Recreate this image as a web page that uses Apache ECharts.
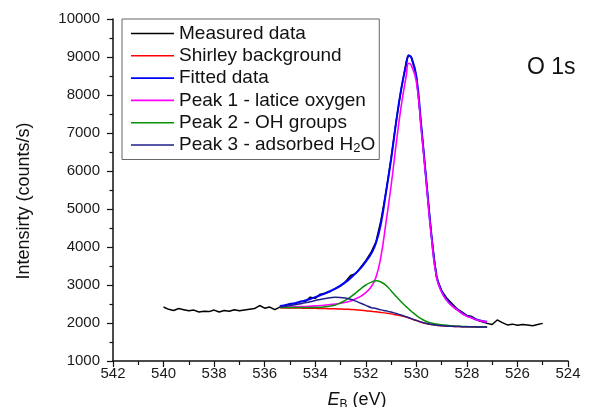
<!DOCTYPE html>
<html>
<head>
<meta charset="utf-8">
<script src="https://cdn.jsdelivr.net/npm/echarts@6/dist/echarts.min.js"></script>
<style>
  html, body { margin: 0; padding: 0; background: #fff; }
  #chart { width: 590px; height: 407px; }
</style>
</head>
<body>
<div id="chart"></div>
<script>
// binding energy grid of the measured spectrum (eV)
var measuredE = [540.0, 539.8, 539.6, 539.4, 539.2, 539.0, 538.8, 538.6, 538.4, 538.2,
  538.0, 537.8, 537.6, 537.4, 537.2, 537.0, 536.8, 536.6, 536.4, 536.2,
  536.0, 535.8, 535.6, 535.4, 535.2, 535.0, 534.8, 534.6, 534.4, 534.2,
  534.0, 533.8, 533.6, 533.4, 533.2, 533.0, 532.8, 532.6, 532.4, 532.2,
  532.0, 531.8, 531.6, 531.4, 531.2, 531.0, 530.8, 530.6, 530.4, 530.3,
  530.2, 530.0, 529.8, 529.6, 529.4, 529.2, 529.0, 528.8, 528.6, 528.4,
  528.2, 528.0, 527.8, 527.6, 527.4, 527.2, 527.0, 526.8, 526.6, 526.4,
  526.2, 526.0, 525.8, 525.6, 525.4, 525.2, 525.0];
var measuredCounts = [2420, 2360, 2330, 2380, 2350, 2320, 2340, 2290, 2310, 2300,
  2340, 2290, 2330, 2310, 2350, 2320, 2340, 2360, 2380, 2460,
  2390, 2420, 2350, 2420, 2450, 2510, 2500, 2570, 2560, 2680,
  2650, 2760, 2780, 2830, 2910, 2970, 3090, 3250, 3300, 3470,
  3640, 3850, 4130, 4700, 5450, 6330, 7300, 8150, 8880, 9050,
  9000, 8500, 7150, 5700, 4300, 3200, 2850, 2660, 2520, 2380,
  2290, 2200, 2170, 2080, 2030, 1990, 1960, 2080, 2010, 1950,
  1970, 1940, 1960, 1950, 1930, 1960, 1990];

// energy grid of the fit curves (eV)
var fitE = [535.4, 535.2, 535.0, 534.8, 534.6, 534.4, 534.2, 534.0, 533.8, 533.6,
  533.4, 533.2, 533.0, 532.8, 532.6, 532.4, 532.2, 532.0, 531.8, 531.6,
  531.4, 531.2, 531.0, 530.8, 530.6, 530.4, 530.3, 530.2, 530.0, 529.8,
  529.6, 529.4, 529.2, 529.0, 528.8, 528.6, 528.4, 528.2, 528.0, 527.8,
  527.6, 527.4, 527.2];
var shirley = [2400, 2398, 2396, 2394, 2392, 2390, 2388, 2385, 2382, 2379,
  2376, 2372, 2368, 2362, 2355, 2347, 2337, 2325, 2310, 2295,
  2278, 2260, 2240, 2215, 2190, 2155, 2133, 2110, 2065, 2020,
  1985, 1958, 1940, 1928, 1918, 1912, 1907, 1903, 1900, 1898,
  1897, 1896, 1895];
var fitted = [2445, 2469, 2495, 2522, 2556, 2590, 2631, 2680, 2731, 2784,
  2843, 2906, 2986, 3076, 3185, 3311, 3446, 3615, 3810, 4100,
  4620, 5440, 6300, 7280, 8150, 8800, 9040, 8990, 8490, 7140,
  5705, 4292, 3240, 2840, 2620, 2470, 2360, 2265, 2190, 2135,
  2085, 2055, 2030];
var peak1 = [2420, 2420, 2422, 2425, 2430, 2435, 2442, 2450, 2460, 2472,
  2485, 2500, 2520, 2545, 2580, 2640, 2700, 2800, 2940, 3200,
  3750, 4650, 5600, 6700, 7700, 8500, 8835, 8780, 8350, 7050,
  5650, 4250, 3200, 2810, 2595, 2455, 2355, 2255, 2180, 2130,
  2080, 2050, 2025];
var peak2 = [2405, 2405, 2405, 2405, 2405, 2405, 2405, 2410, 2415, 2425,
  2445, 2475, 2530, 2600, 2690, 2790, 2900, 3000, 3070, 3110,
  3080, 2990, 2850, 2700, 2560, 2430, 2370, 2310, 2200, 2110,
  2040, 2000, 1975, 1955, 1940, 1925, 1915, 1910, 1905, 1900,
  1900, 1900, 1900];
var peak3 = [2420, 2440, 2460, 2480, 2505, 2530, 2560, 2590, 2620, 2645,
  2665, 2675, 2672, 2655, 2625, 2575, 2520, 2465, 2410, 2380,
  2345, 2320, 2290, 2250, 2210, 2165, 2140, 2115, 2068, 2022,
  1987, 1960, 1942, 1930, 1920, 1913, 1908, 1904, 1901, 1899,
  1898, 1897, 1896];

var seriesNames = ['Measured data', 'Shirley background', 'Fitted data',
  'Peak 1 - latice oxygen', 'Peak 2 - OH groups', 'Peak 3 - adsorbed H2O'];
var xTicks = [542, 524, 2];     // max, min, step
var yTicks = [1000, 10000, 1000];

function pairs(xs, ys) {
  return xs.map(function (x, i) { return [x, ys[i]]; });
}

var font = "'Liberation Sans', Arial, sans-serif";
var myChart = echarts.init(document.getElementById('chart'), null, {renderer: 'canvas'});

function line(name, xs, ys, color, width, smooth) {
  return {
    name: name,
    type: 'line',
    data: pairs(xs, ys),
    symbol: 'none',
    smooth: smooth,
    lineStyle: {color: color, width: width},
    itemStyle: {color: color}
  };
}

myChart.setOption({
  animation: false,
  backgroundColor: '#fff',
  grid: {left: 113, right: 22, top: 19, bottom: 46, outerBoundsMode: 'none'},
  legend: {
    orient: 'vertical',
    left: 122,
    top: 19,
    padding: [5, 4, 5, 9],
    itemGap: 3.3,
    itemWidth: 43,
    itemHeight: 1.6,
    icon: 'rect',
    borderColor: '#666',
    borderWidth: 1,
    data: seriesNames,
    formatter: function (name) {
      return name === seriesNames[5] ? '{n|Peak 3 - adsorbed H}{sub|2}{n|O}' : name;
    },
    textStyle: {
      fontFamily: font, fontSize: 19, lineHeight: 19, color: '#111',
      rich: {
        n: {fontFamily: font, fontSize: 19, lineHeight: 19, color: '#111', verticalAlign: 'middle'},
        sub: {fontFamily: font, fontSize: 13, lineHeight: 13, color: '#111', verticalAlign: 'bottom'}
      }
    }
  },
  graphic: [{
    type: 'text', left: 527, top: 56,
    style: {text: 'O 1s', fontFamily: font, fontSize: 23, fill: '#111'}
  }],
  xAxis: {
    type: 'value',
    inverse: true,
    min: xTicks[1],
    max: xTicks[0],
    interval: xTicks[2],
    name: '{it|E}{sub|B} (eV)',
    nameLocation: 'middle',
    nameGap: 28,
    nameTextStyle: {
      fontFamily: font, fontSize: 18, color: '#111', padding: [0, 0, 0, 33],
      rich: {
        it: {fontFamily: font, fontSize: 18, fontStyle: 'italic', color: '#111'},
        sub: {fontFamily: font, fontSize: 12, color: '#111', padding: [10, 0, 0, 0]}
      }
    },
    axisLine: {show: true, onZero: false, lineStyle: {color: '#111', width: 1.5}},
    axisTick: {show: true, inside: false, length: 6, lineStyle: {color: '#111', width: 1.2}},
    minorTick: {show: true, splitNumber: 2, length: 4, lineStyle: {color: '#111', width: 1.2}},
    axisLabel: {fontFamily: font, fontSize: 15, color: '#1a1a1a', margin: 5,
      formatter: function (v) { return String(v); }},
    splitLine: {show: false}
  },
  yAxis: {
    type: 'value',
    min: yTicks[0],
    max: yTicks[1],
    interval: yTicks[2],
    name: 'Intensirty (counts/s)',
    nameLocation: 'middle',
    nameGap: 80,
    nameTextStyle: {fontFamily: font, fontSize: 18, color: '#111', padding: [0, 22, 0, 0]},
    axisLine: {show: true, onZero: false, lineStyle: {color: '#111', width: 1.5}},
    axisTick: {show: true, inside: false, length: 6, lineStyle: {color: '#111', width: 1.2}},
    minorTick: {show: true, splitNumber: 2, length: 3.5, lineStyle: {color: '#111', width: 1.2}},
    axisLabel: {fontFamily: font, fontSize: 15, color: '#1a1a1a', margin: 13,
      formatter: function (v) { return String(v); }},
    splitLine: {show: false}
  },
  series: [
    line(seriesNames[0], measuredE, measuredCounts, '#000000', 1.5, false),
    line(seriesNames[1], fitE, shirley, '#ff0000', 1.5, true),
    line(seriesNames[2], fitE, fitted, '#0000ff', 2, true),
    line(seriesNames[3], fitE, peak1, '#ff00ff', 1.6, true),
    line(seriesNames[4], fitE, peak2, '#079007', 1.5, true),
    line(seriesNames[5], fitE, peak3, '#1f1f8c', 1.5, true)
  ]
});
</script>
</body>
</html>
